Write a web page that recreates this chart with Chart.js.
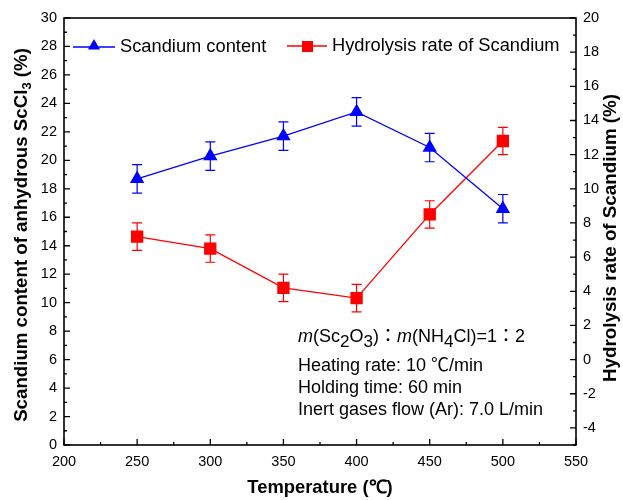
<!DOCTYPE html>
<html>
<head>
<meta charset="utf-8">
<script src="https://cdn.jsdelivr.net/npm/chart.js@4/dist/chart.umd.min.js"></script>
<style>
  html, body { margin: 0; padding: 0; background: #fff; }
  #wrap { width: 623px; height: 500px; }
</style>
</head>
<body>
<div id="wrap"><canvas id="myChart" width="623" height="500"></canvas></div>
<script>
// data
const temperatures = [250, 300, 350, 400, 450, 500];
const scandiumContent = [18.7, 20.3, 21.7, 23.4, 20.9, 16.6];   // left axis, %
const scandiumErr = [1.0, 1.0, 1.0, 1.0, 1.0, 1.0];
const hydrolysisRate = [7.2, 6.5, 4.2, 3.6, 8.5, 12.8];        // right axis, %
const hydrolysisErr = [0.8, 0.8, 0.8, 0.8, 0.8, 0.8];
const rightTicks = [-4, -2, 0, 2, 4, 6, 8, 10, 12, 14, 16, 18, 20];

const BLUE = '#0000ff';
const RED = '#ff0000';
const FONT = '"Liberation Sans", Arial, sans-serif';

function drawTriangle(ctx, x, y, r) {
    ctx.beginPath();
    ctx.moveTo(x, y - r);
    ctx.lineTo(x + r * 0.866, y + r * 0.5);
    ctx.lineTo(x - r * 0.866, y + r * 0.5);
    ctx.closePath();
    ctx.fill();
}

// draws a run of text pieces, each {t, sub, italic, cjk}
function drawRich(ctx, parts, x, y, size) {
    parts.forEach(p => {
        const fs = p.sub ? size * 0.95 : size;
        const fam = p.cjk ? '"Noto Sans CJK JP", sans-serif' : FONT;
        ctx.font = (p.italic ? 'italic ' : '') + fs + 'px ' + fam;
        ctx.fillText(p.t, x, p.sub ? y + size * 0.3 : y);
        x += ctx.measureText(p.t).width;
    });
    return x;
}

const extras = {
    id: 'extras',
    afterDatasetsDraw(chart) {
        const ctx = chart.ctx;
        const a = chart.chartArea;
        const xs = chart.scales.x, yl = chart.scales.y, yr = chart.scales.y1;
        ctx.save();

        // error bars
        const bars = [[scandiumContent, scandiumErr, yl, BLUE], [hydrolysisRate, hydrolysisErr, yr, RED]];
        bars.forEach(([vals, errs, sc, col]) => {
            ctx.strokeStyle = col;
            ctx.lineWidth = 1.2;
            vals.forEach((v, i) => {
                const px = xs.getPixelForValue(temperatures[i]);
                const top = sc.getPixelForValue(v + errs[i]);
                const bot = sc.getPixelForValue(v - errs[i]);
                ctx.beginPath();
                ctx.moveTo(px, top); ctx.lineTo(px, bot);
                ctx.moveTo(px - 5, top); ctx.lineTo(px + 5, top);
                ctx.moveTo(px - 5, bot); ctx.lineTo(px + 5, bot);
                ctx.stroke();
            });
        });

        // inward ticks
        ctx.strokeStyle = '#000';
        ctx.lineWidth = 1.3;
        ctx.beginPath();
        for (let v = 0; v <= 30; v += 1) {
            const py = yl.getPixelForValue(v);
            ctx.moveTo(a.left, py); ctx.lineTo(a.left + (v % 2 === 0 ? 6 : 3), py);
        }
        for (let v = -5; v <= 20; v += 1) {
            const py = yr.getPixelForValue(v);
            ctx.moveTo(a.right, py); ctx.lineTo(a.right - (v % 2 === 0 ? 6 : 3), py);
        }
        for (let v = 200; v <= 550; v += 25) {
            const px = xs.getPixelForValue(v);
            ctx.moveTo(px, a.bottom); ctx.lineTo(px, a.bottom - (v % 50 === 0 ? 6 : 3));
        }
        ctx.stroke();

        // frame
        ctx.lineWidth = 1.6;
        ctx.strokeRect(a.left, a.top, a.right - a.left, a.bottom - a.top);

        // legend
        ctx.lineWidth = 1.3;
        ctx.textBaseline = 'middle';
        ctx.strokeStyle = BLUE; ctx.fillStyle = BLUE;
        ctx.beginPath(); ctx.moveTo(73, 47); ctx.lineTo(115, 47); ctx.stroke();
        drawTriangle(ctx, 94, 46, 7);
        ctx.strokeStyle = RED; ctx.fillStyle = RED;
        ctx.beginPath(); ctx.moveTo(287, 46); ctx.lineTo(327, 46); ctx.stroke();
        ctx.fillRect(302, 41, 11, 11);
        ctx.fillStyle = '#000';
        ctx.font = '18.3px ' + FONT;
        ctx.fillText('Scandium content', 120, 47);
        ctx.fillText('Hydrolysis rate of Scandium', 332, 46);

        // conditions note
        ctx.textBaseline = 'alphabetic';
        drawRich(ctx, [
            {t: 'm', italic: true}, {t: '(Sc'}, {t: '2', sub: true}, {t: 'O'}, {t: '3', sub: true},
            {t: ')'}, {t: '：', cjk: true}, {t: 'm', italic: true}, {t: '(NH'}, {t: '4', sub: true},
            {t: 'Cl)=1'}, {t: '：', cjk: true}, {t: '2'}
        ], 298, 342, 18);
        drawRich(ctx, [{t: 'Heating rate: 10 '}, {t: '℃', cjk: true}, {t: '/min'}], 298, 371, 18);
        drawRich(ctx, [{t: 'Holding time: 60 min'}], 298, 393, 18);
        drawRich(ctx, [{t: 'Inert gases flow (Ar): 7.0 L/min'}], 298, 415, 18);

        // axis titles
        ctx.font = 'bold 18.4px ' + FONT;
        ctx.textBaseline = 'middle';
        ctx.textAlign = 'center';
        ctx.fillText('Temperature (℃)', 320, 488);

        ctx.save();
        ctx.translate(611, 238);
        ctx.rotate(-Math.PI / 2);
        ctx.font = 'bold 18.8px ' + FONT;
        ctx.fillText('Hydrolysis rate of Scandium (%)', 0, 0);
        ctx.restore();

        ctx.save();
        ctx.translate(22, 235);
        ctx.rotate(-Math.PI / 2);
        ctx.textAlign = 'left';
        const big = 'bold 18.7px ' + FONT, small = 'bold 13px ' + FONT;
        const p1 = 'Scandium content of anhydrous ScCl', p2 = ' (%)';
        ctx.font = big;
        const w1 = ctx.measureText(p1).width;
        const w2 = ctx.measureText(p2).width;
        ctx.font = small;
        const w3 = ctx.measureText('3').width;
        const x0 = -(w1 + w3 + w2) / 2;
        ctx.font = big;
        ctx.fillText(p1, x0, 0);
        ctx.fillText(p2, x0 + w1 + w3, 0);
        ctx.font = small;
        ctx.fillText('3', x0 + w1, 5);
        ctx.restore();

        ctx.restore();
    }
};

const tickFont = { family: FONT, size: 14.5 };
const noGrid = { display: false, drawTicks: false, tickLength: 0 };

new Chart(document.getElementById('myChart').getContext('2d'), {
    type: 'line',
    data: {
        datasets: [
            {
                label: 'Scandium content',
                data: temperatures.map((t, i) => ({ x: t, y: scandiumContent[i] })),
                borderColor: BLUE,
                backgroundColor: BLUE,
                borderWidth: 1.3,
                pointStyle: 'triangle',
                pointRadius: 7,
                yAxisID: 'y'
            },
            {
                label: 'Hydrolysis rate of Scandium',
                data: temperatures.map((t, i) => ({ x: t, y: hydrolysisRate[i] })),
                borderColor: RED,
                backgroundColor: RED,
                borderWidth: 1.3,
                pointStyle: 'rect',
                pointRadius: 7.8,
                yAxisID: 'y1'
            }
        ]
    },
    options: {
        responsive: false,
        animation: false,
        events: [],
        layout: { padding: { top: 18, left: 0, right: 0, bottom: 0 } },
        plugins: { legend: { display: false }, tooltip: { enabled: false } },
        scales: {
            x: {
                type: 'linear',
                min: 200, max: 550,
                ticks: { stepSize: 50, color: '#000', font: tickFont, padding: 8, maxRotation: 0 },
                grid: noGrid,
                border: { display: false },
                afterFit: s => { s.height = 55; }
            },
            y: {
                position: 'left',
                min: 0, max: 30,
                ticks: { stepSize: 2, color: '#000', font: tickFont, padding: 7 },
                grid: noGrid,
                border: { display: false },
                afterFit: s => { s.width = 64; }
            },
            y1: {
                position: 'right',
                min: -5, max: 20,
                afterBuildTicks: s => { s.ticks = rightTicks.map(v => ({ value: v })); },
                ticks: { color: '#000', font: tickFont, padding: 7 },
                grid: noGrid,
                border: { display: false },
                afterFit: s => { s.width = 47; }
            }
        }
    },
    plugins: [extras]
});
</script>
</body>
</html>
